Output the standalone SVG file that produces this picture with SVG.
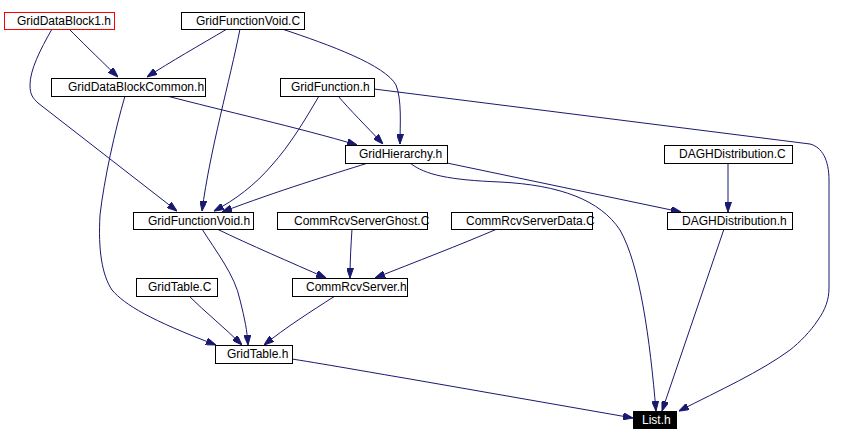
<svg xmlns="http://www.w3.org/2000/svg" width="845" height="442" viewBox="0 0 845 442">
<style>
.box{fill:#ffffff;stroke:#000000;stroke-width:1}
.lbl{font-family:"Liberation Sans",Arial,sans-serif;font-size:12px;fill:#000000}
.e{fill:none;stroke:#191970;stroke-width:1;marker-end:url(#arr)}
</style>
<defs>
<marker id="arr" viewBox="0 0 10 7" refX="10" refY="3.5" markerWidth="10" markerHeight="7" orient="auto" markerUnits="userSpaceOnUse">
<path d="M0,0 L10,3.5 L0,7 z" fill="#191970" stroke="#191970"/>
</marker>
</defs>
<rect width="845" height="442" fill="#ffffff"/>
<g id="edges">
<path class="e" d="M69,29 C80,40 95,55 118,77"/>
<path class="e" d="M52,29 C40,50 30,70 30,85 C30,95 33,98 38,103 L177,211"/>
<path class="e" d="M227,29 C200,45 170,62 147,77"/>
<path class="e" d="M240,29 C230,80 210,150 202,211"/>
<path class="e" d="M282,29 C330,45 385,65 396,85 C402,100 400,125 400,144"/>
<path class="e" d="M338,96 C350,110 365,125 383,144"/>
<path class="e" d="M319,96 C305,120 290,145 272,165 C255,185 235,200 214,211"/>
<path class="e" d="M374,89 L810,144 C822,147 829,160 829,180 L829,288 C829,300 825,310 818,320 C810,332 800,342 790,350 C760,372 720,390 679,411"/>
<path class="e" d="M167,96 C220,110 300,128 357,145"/>
<path class="e" d="M125,96 C115,130 104,180 100,215 C98,250 102,275 112,290 C125,305 150,320 216,345"/>
<path class="e" d="M368,163 C330,175 280,190 222,212"/>
<path class="e" d="M447,163 L681,212"/>
<path class="e" d="M410,163 C425,175 450,180 500,182 C560,185 600,200 620,230 C640,265 650,340 656,411"/>
<path class="e" d="M728,163 L728,212"/>
<path class="e" d="M724,229 L662,411"/>
<path class="e" d="M217,229 C250,245 290,262 326,278"/>
<path class="e" d="M202,229 C215,250 235,275 240,300 C245,320 247,330 248,345"/>
<path class="e" d="M352,229 C351,245 350,260 350,278"/>
<path class="e" d="M497,229 C460,245 415,262 375,278"/>
<path class="e" d="M189,296 C205,312 225,328 242,345"/>
<path class="e" d="M335,296 C310,312 285,328 264,345"/>
<path class="e" d="M292,359 C330,365 380,374 410,379 L633,418"/>
</g>
<g id="n_GridDataBlock1_h"><rect class="box" x="4.5" y="12.5" width="110" height="17" style="stroke:#ff0000"/><text class="lbl" x="17" y="25">GridDataBlock1.h</text></g>
<g id="n_GridFunctionVoid_C"><rect class="box" x="181.5" y="12.5" width="123" height="17"/><text class="lbl" x="196" y="25">GridFunctionVoid.C</text></g>
<g id="n_GridDataBlockCommon_h"><rect class="box" x="51.5" y="78.5" width="154" height="18"/><text class="lbl" x="68" y="91">GridDataBlockCommon.h</text></g>
<g id="n_GridFunction_h"><rect class="box" x="280.5" y="78.5" width="94" height="18"/><text class="lbl" x="291" y="91">GridFunction.h</text></g>
<g id="n_GridHierarchy_h"><rect class="box" x="345.5" y="145.5" width="102" height="18"/><text class="lbl" x="359" y="158">GridHierarchy.h</text></g>
<g id="n_DAGHDistribution_C"><rect class="box" x="664.5" y="145.5" width="128" height="18"/><text class="lbl" x="679" y="158">DAGHDistribution.C</text></g>
<g id="n_DAGHDistribution_h"><rect class="box" x="667.5" y="212.5" width="125" height="17"/><text class="lbl" x="682" y="225">DAGHDistribution.h</text></g>
<g id="n_GridFunctionVoid_h"><rect class="box" x="133.5" y="212.5" width="120" height="17"/><text class="lbl" x="148" y="225">GridFunctionVoid.h</text></g>
<g id="n_CommRcvServerGhost_C"><rect class="box" x="277.5" y="212.5" width="150" height="17"/><text class="lbl" x="294" y="225">CommRcvServerGhost.C</text></g>
<g id="n_CommRcvServerData_C"><rect class="box" x="451.5" y="212.5" width="141" height="17"/><text class="lbl" x="466" y="225">CommRcvServerData.C</text></g>
<g id="n_GridTable_C"><rect class="box" x="136.5" y="278.5" width="81" height="18"/><text class="lbl" x="148" y="291">GridTable.C</text></g>
<g id="n_CommRcvServer_h"><rect class="box" x="292.5" y="278.5" width="115" height="18"/><text class="lbl" x="306" y="291">CommRcvServer.h</text></g>
<g id="n_GridTable_h"><rect class="box" x="215.5" y="345.5" width="77" height="18"/><text class="lbl" x="227" y="358">GridTable.h</text></g>
<g id="n_List_h"><rect x="633" y="411" width="44" height="18" fill="#000000"/><text class="lbl" x="642" y="424" style="fill:#ffffff">List.h</text></g>
</svg>
